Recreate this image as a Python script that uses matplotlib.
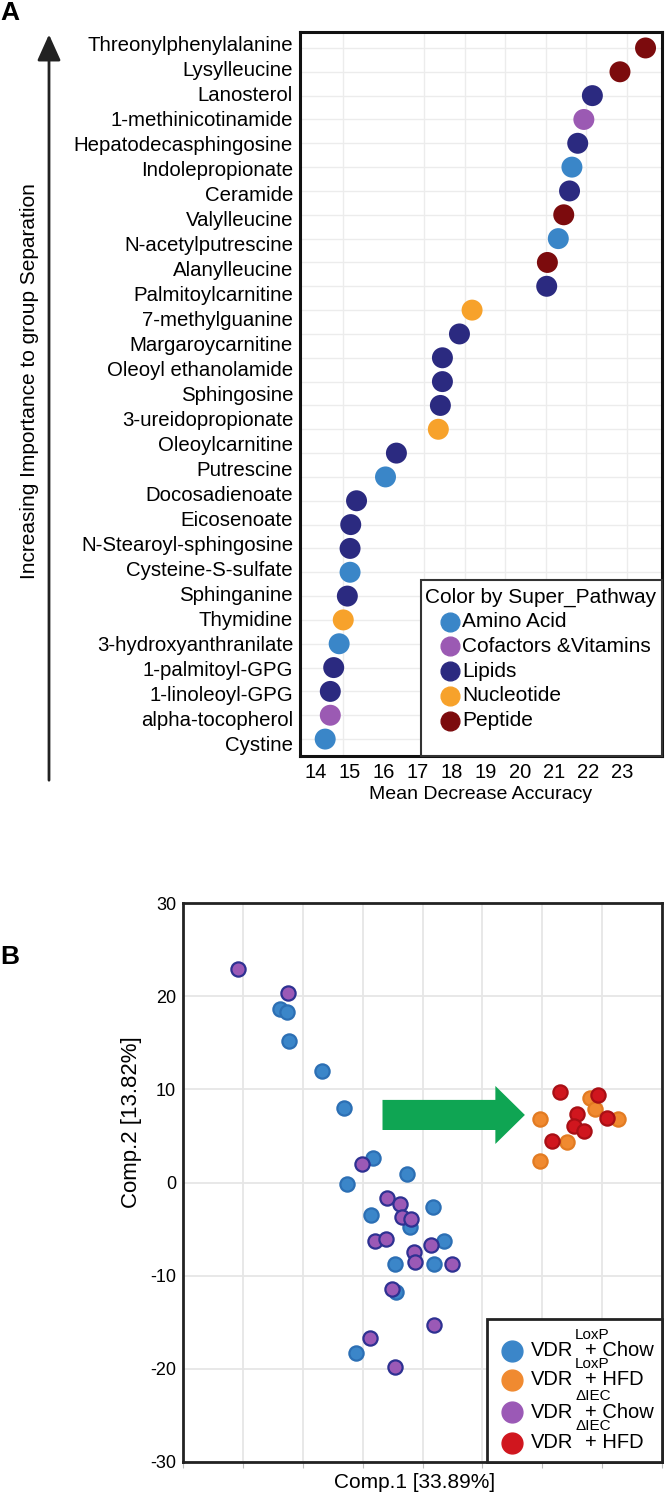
import numpy as np
import matplotlib
matplotlib.use("Agg")
import matplotlib.pyplot as plt
from matplotlib.lines import Line2D
from matplotlib.patches import Rectangle, FancyArrow, FancyArrowPatch

plt.rcParams["font.family"] = ["Liberation Sans", "DejaVu Sans"]

W, H = 666, 1494

# ---------------- panel A: random forest importance ----------------
metabolites = [
    "Threonylphenylalanine", "Lysylleucine", "Lanosterol", "1-methinicotinamide",
    "Hepatodecasphingosine", "Indolepropionate", "Ceramide", "Valylleucine",
    "N-acetylputrescine", "Alanylleucine", "Palmitoylcarnitine", "7-methylguanine",
    "Margaroycarnitine", "Oleoyl ethanolamide", "Sphingosine", "3-ureidopropionate",
    "Oleoylcarnitine", "Putrescine", "Docosadienoate", "Eicosenoate",
    "N-Stearoyl-sphingosine", "Cysteine-S-sulfate", "Sphinganine", "Thymidine",
    "3-hydroxyanthranilate", "1-palmitoyl-GPG", "1-linoleoyl-GPG", "alpha-tocopherol",
    "Cystine",
]
# 30 dots are drawn in the figure (one row carries no name)
mda = [23.69, 22.94, 22.13, 21.88, 21.70, 21.53, 21.46, 21.29, 21.13, 20.81,
       20.79, 18.60, 18.23, 17.73, 17.73, 17.67, 17.61, 16.38, 16.06, 15.21,
       15.04, 15.02, 15.02, 14.94, 14.82, 14.70, 14.54, 14.44, 14.44, 14.29]
pathway = ["Peptide", "Peptide", "Lipids", "Cofactors &Vitamins", "Lipids",
           "Amino Acid", "Lipids", "Peptide", "Amino Acid", "Peptide",
           "Lipids", "Nucleotide", "Lipids", "Lipids", "Lipids",
           "Lipids", "Nucleotide", "Lipids", "Amino Acid", "Lipids",
           "Lipids", "Lipids", "Amino Acid", "Lipids", "Nucleotide",
           "Amino Acid", "Lipids", "Lipids", "Cofactors &Vitamins", "Amino Acid"]
pathways = ["Amino Acid", "Cofactors &Vitamins", "Lipids", "Nucleotide", "Peptide"]
path_colors = {"Amino Acid": "#3a86c8", "Cofactors &Vitamins": "#9b5ab3",
               "Lipids": "#2b2a80", "Nucleotide": "#f7a22b", "Peptide": "#7c0b0d"}
xticks_a = [14, 15, 16, 17, 18, 19, 20, 21, 22, 23]

# ---------------- panel B: PLS-DA scores ----------------
groups = ["VDR LoxP + Chow", "VDR LoxP + HFD", "VDR dIEC + Chow", "VDR dIEC + HFD"]
loxp_chow_x = [-23.74, -22.67, -22.32, -16.71, -13.07, -8.31, -2.62, -12.57,
               1.79, -8.66, -2.05, 3.57, -4.61, 2.00, -4.39, -11.15]
loxp_chow_y = [18.62, 18.33, 15.19, 12.00, 7.96, 2.60, 0.88, -0.19,
               -2.60, -3.49, -4.74, -6.25, -8.75, -8.78, -11.72, -18.33]
loxp_hfd_x = [19.65, 19.65, 24.06, 27.96, 28.81, 32.59]
loxp_hfd_y = [6.85, 2.34, 4.35, 9.04, 7.86, 6.82]
diec_chow_x = [-30.85, -22.39, -10.08, -5.96, -3.82, -3.47, -1.90, -7.95, -6.03,
               1.44, -1.40, -1.20, 4.86, -5.11, 2.00, -8.81, -4.54]
diec_chow_y = [22.88, 20.37, 1.99, -1.69, -2.31, -3.67, -3.95, -6.28, -6.10,
               -6.71, -7.43, -8.57, -8.78, -11.46, -15.29, -16.72, -19.83]
diec_hfd_x = [22.99, 29.25, 25.83, 25.26, 27.05, 21.70, 30.82]
diec_hfd_y = [9.75, 9.39, 7.32, 6.10, 5.56, 4.45, 6.96]
group_face = ["#3b86c9", "#f08a30", "#9b59b6", "#d0161e"]
group_edge = ["#2c6fb4", "#e27b22", "#2e3192", "#a80f15"]
yticks_b = [-30, -20, -10, 0, 10, 20, 30]


def fx(x):
    return x / W


def fy(y):
    return 1 - y / H


fig = plt.figure(figsize=(6.66, 14.94), dpi=100)

# ---- panel A
ax = fig.add_axes([fx(300), fy(756), 362 / W, 724 / H])
rows = np.arange(len(mda))
ax.scatter(mda, rows, s=228, c=[path_colors[p] for p in pathway],
           linewidths=0, zorder=3)
ax.set_xlim(13.551, 24.173)
ax.set_ylim(29.71, -0.67)
ax.set_xticks(xticks_a)
ax.set_xticklabels([str(t) for t in xticks_a], fontsize=14.5)
ax.set_yticks(np.linspace(-0.2, 29.18, len(metabolites)))
ax.set_yticklabels(metabolites, fontsize=14.7)
ax.set_xticks(np.arange(14.81, 24, 1.19), minor=True)
ax.set_yticks(rows, minor=True)
ax.grid(False)
ax.grid(True, which="minor", color="#ececec", lw=1, zorder=0)
ax.tick_params(which="both", length=0)
ax.tick_params(axis="y", pad=5)
ax.tick_params(axis="x", pad=5)
for s in ax.spines.values():
    s.set_linewidth(2.2)
    s.set_color("#111111")
ax.set_xlabel("Mean Decrease Accuracy", fontsize=14, labelpad=3)

# legend A
fig.add_artist(Rectangle((fx(421), fy(756)), 241 / W, 176 / H, transform=fig.transFigure,
                         facecolor="white", edgecolor="#333333", lw=1.5, zorder=5))
fig.text(fx(425), fy(597), "Color by Super_Pathway", fontsize=15, va="center",
         ha="left", zorder=6)
for i, p in enumerate(pathways):
    yy = 621.7 + i * 24.75
    fig.add_artist(Line2D([fx(449.5)], [fy(yy)], transform=fig.transFigure, marker="o",
                          ms=13.5, color=path_colors[p], mec=path_colors[p], zorder=6))
    fig.text(fx(462), fy(yy), p, fontsize=15, va="center", ha="left", zorder=6)

# arrow + side label
fig.add_artist(FancyArrowPatch((fx(49), fy(783)), (fx(49), fy(31.7)),
                               transform=fig.transFigure,
                               arrowstyle="-|>,head_length=0.8,head_width=0.36",
                               mutation_scale=20, lw=2, color="#222222"))
fig.text(fx(30), fy(381), "Increasing Importance to group Separation", rotation=90,
         fontsize=15, ha="center", va="center")
fig.text(fx(0), fy(13.5), "A", fontsize=19, fontweight="bold", ha="left", va="center")

# ---- panel B
bx = fig.add_axes([fx(183), fy(1462), 479 / W, 559 / H])
bx.set_xlim(-40, 40)
bx.set_ylim(-30, 30)
bx.set_xticks(np.arange(-40, 41, 10))
bx.set_xticklabels([])
bx.set_yticks(yticks_b)
bx.set_yticklabels([str(t) for t in yticks_b], fontsize=13)
bx.grid(True, color="#e6e6e6", lw=1.3, zorder=0)
bx.tick_params(axis="x", length=4, color="#bbbbbb")
bx.tick_params(axis="y", length=0, pad=5)
for s in bx.spines.values():
    s.set_linewidth(2)
    s.set_color("#222222")

bx.add_patch(FancyArrow(-6.68, 7.25, 23.78, 0, width=3.23, head_width=6.23,
                        head_length=4.93, length_includes_head=True,
                        color="#0fa553", lw=0, zorder=2))
data_b = [(loxp_chow_x, loxp_chow_y), (loxp_hfd_x, loxp_hfd_y),
          (diec_chow_x, diec_chow_y), (diec_hfd_x, diec_hfd_y)]
for (gx, gy), fc, ec in zip(data_b, group_face, group_edge):
    bx.scatter(gx, gy, s=105, c=fc, edgecolors=ec, linewidths=1.6, zorder=3)

fig.text(fx(415), fy(1483), "Comp.1 [33.89%]", fontsize=15, ha="center", va="center")
fig.text(fx(132), fy(1122), "Comp.2 [13.82%]", fontsize=16, rotation=90,
         ha="center", va="center")
fig.text(fx(0), fy(957), "B", fontsize=19, fontweight="bold", ha="left", va="center")

# legend B
fig.add_artist(Rectangle((fx(487.3), fy(1462)), (662 - 487.3) / W, (1462 - 1319.3) / H,
                         transform=fig.transFigure, facecolor="white",
                         edgecolor="#222222", lw=2, zorder=5))
sups = ["LoxP", "LoxP", "\u0394IEC", "\u0394IEC"]
diets = ["+ Chow", "+ HFD", "+ Chow", "+ HFD"]
for i in range(4):
    yy = [1350.7, 1379.5, 1412, 1442.5][i]
    fig.add_artist(Line2D([fx(511.7)], [fy(yy)], transform=fig.transFigure, marker="o",
                          ms=15, color=group_face[i], mec=group_face[i], zorder=6))
    fig.text(fx(530.5), fy(yy), "VDR", fontsize=14.5, va="center", ha="left", zorder=6)
    fig.text(fx(575), fy(yy - 16), sups[i], fontsize=11, va="center", ha="left", zorder=6)
    fig.text(fx(585), fy(yy), diets[i], fontsize=14.5, va="center", ha="left", zorder=6)

fig.savefig("out.png", dpi=100)
